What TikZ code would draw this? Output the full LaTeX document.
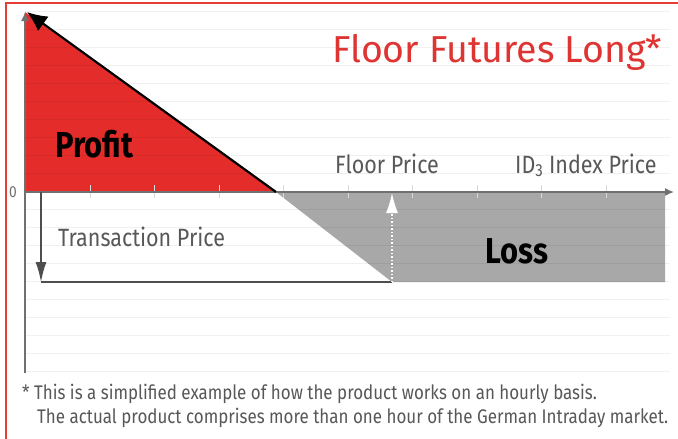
\documentclass[tikz,border=0pt]{standalone}
\usepackage{fontspec}
\setmainfont{Fira Sans}[FakeStretch=0.86]
\newfontfamily\titlefont{Fira Sans}
\usetikzlibrary{arrows.meta}
\definecolor{framered}{RGB}{226,62,52}
\definecolor{profitred}{RGB}{228,45,42}
\definecolor{titlered}{RGB}{222,52,50}
\definecolor{lossgray}{RGB}{168,168,168}
\definecolor{axisgray}{RGB}{112,112,112}
\definecolor{labelgray}{RGB}{88,88,88}
\tikzset{
  lbl/.style={font=\fontsize{25}{29}\selectfont, text=labelgray, inner sep=0pt, anchor=base west},
  big/.style={font=\bfseries\fontsize{36}{40}\selectfont, inner sep=0pt, anchor=base west},
  note/.style={font=\fontsize{19.7}{23}\selectfont, text=labelgray, inner sep=0pt, anchor=base west}
}
\begin{document}
\begin{tikzpicture}[x=1pt, y=-1pt]
  \useasboundingbox (0,0) rectangle (678,439);
  \fill[white] (0,0) rectangle (678,439);
  \draw[framered, line width=2pt] (6,439) -- (6,3) -- (678,3);

  \coordinate (o) at (25,192);
  \coordinate (ytop) at (25,12);
  \coordinate (ybot) at (25,373);
  \coordinate (xend) at (674,192);
  \coordinate (strike) at (276,192);
  \coordinate (tip) at (27,12);
  \coordinate (tp0) at (41,192);
  \coordinate (tp) at (41,282);
  \coordinate (fp) at (392,282);
  \coordinate (fp0) at (392,193);

  \fill[profitred] (ytop) -- (o) -- (strike) -- cycle;
  \fill[lossgray] (strike) -- (665,192) -- (665,282) -- (fp) -- cycle;

  \foreach \k in {0,...,20}
    \draw[black, opacity=.06, line width=1pt] (25,{11+18*\k}) -- (670,{11+18*\k});
  \foreach \k in {0,...,8}
    \draw[white!70!gray, line width=1pt] ({90+64.5*\k},185) -- ({90+64.5*\k},198);

  \draw[axisgray, line width=1.5pt, -{Latex[length=9pt,width=8pt]}] (ybot) -- (ytop);
  \draw[axisgray, line width=1.5pt, -{Latex[length=9pt,width=8pt]}] (o) -- (xend);
  \draw[black, line width=2.2pt, -{Latex[length=20pt,width=18pt]}] (strike) -- (tip);
  \draw[axisgray!70!black, line width=1.5pt, -{Latex[length=20pt,width=11pt]}] (tp0) -- (tp);
  \draw[axisgray!70!black, line width=1.5pt] (tp) -- (fp);
  \draw[white, line width=1.5pt, dotted, -{Latex[length=20pt,width=12pt]}] (fp) -- (fp0);

  \node[text=axisgray, font=\fontsize{16}{18}\selectfont, inner sep=0pt] (zero) at (13,192) {0};
  \node[big] (profit) at (55,157) {Profit};
  \node[big] (loss) at (485,263) {Loss};
  \node[lbl] (trans) at (58,246) {Transaction Price};
  \node[lbl] (floor) at (335,173) {Floor Price};
  \node[lbl] (index) at (515,173) {ID\textsubscript{3} Index Price};
  \node[font=\titlefont\fontsize{37.5}{42}\selectfont, text=titlered, inner sep=0pt, anchor=base west] (title) at (332,62) {Floor Futures Long*};
  \node[note] (fn1) at (22,399) {* This is a simplified example of how the product works on an hourly basis.};
  \node[note] (fn2) at (37,423) {The actual product comprises more than one hour of the German Intraday market.};
\end{tikzpicture}
\end{document}
